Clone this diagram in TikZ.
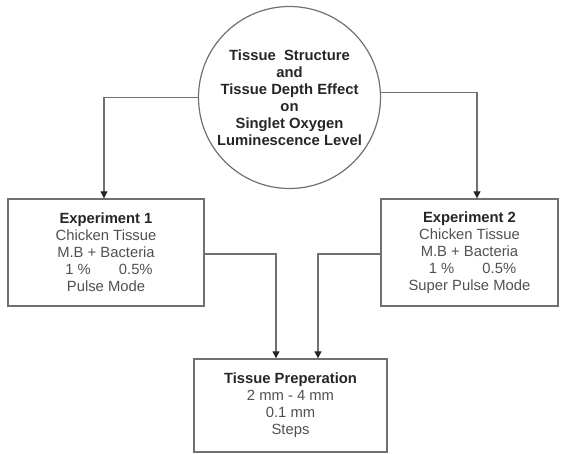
\documentclass[tikz,border=0pt]{standalone}
\usepackage{fontspec}
\setmainfont{Liberation Sans}
\usepackage{xcolor}
\usetikzlibrary{arrows.meta,positioning,calc}
\definecolor{linegray}{HTML}{707070}
\definecolor{textgray}{HTML}{505050}
\newcommand{\boxfont}{\fontsize{14.8}{17}\selectfont}

\begin{document}
\begin{tikzpicture}[x=1pt, y=-1pt,
    >={Triangle[width=7pt,length=7pt,color=black!85]},
    stagebox/.style={draw=linegray, line width=1.4pt, rectangle, align=center,
      inner sep=0pt, font=\boxfont, text=textgray},
    topic/.style={draw=linegray, line width=1.2pt, circle, align=center,
      inner sep=0pt, minimum size=182pt, font=\boxfont\bfseries, text=black!85},
    link/.style={->, draw=linegray, line width=1.2pt}]
  \useasboundingbox (0,0) rectangle (566,454);
  \node[topic] (topic) at (289.5,97.5)
    {Tissue\ \ Structure\\and\\Tissue Depth Effect\\on\\Singlet Oxygen\\Luminescence Level};
  \node[stagebox, minimum width=196pt, minimum height=107pt] (exp1) at (106,252.5)
    {\textbf{\color{black!85}Experiment 1}\\Chicken Tissue\\M.B + Bacteria\\
     \hspace{6pt}1 \%\hspace{1.9em}0.5\%\\Pulse Mode};
  \node[stagebox, minimum width=177pt, minimum height=107pt] (exp2) at (469.5,252.5)
    {\textbf{\color{black!85}Experiment 2}\\Chicken Tissue\\M.B + Bacteria\\
     \hspace{6pt}1 \%\hspace{1.9em}0.5\%\\Super Pulse Mode};
  \node[stagebox, minimum width=193pt, minimum height=93pt] (prep) at (290.5,405.5)
    {\textbf{\color{black!85}Tissue Preperation}\\2 mm - 4 mm\\0.1 mm\\Steps};
  % connectors
  \draw[link] (topic.west) -| ([xshift=-2pt]exp1.north);
  \draw[link] (topic.3) -| ([xshift=7.5pt]exp2.north);
  \draw[link] ([yshift=-1.5pt]exp1.east) -| ([xshift=-14.5pt]prep.north);
  \draw[link] ([yshift=-1.5pt]exp2.west) -| ([xshift=27.5pt]prep.north);
\end{tikzpicture}
\end{document}
